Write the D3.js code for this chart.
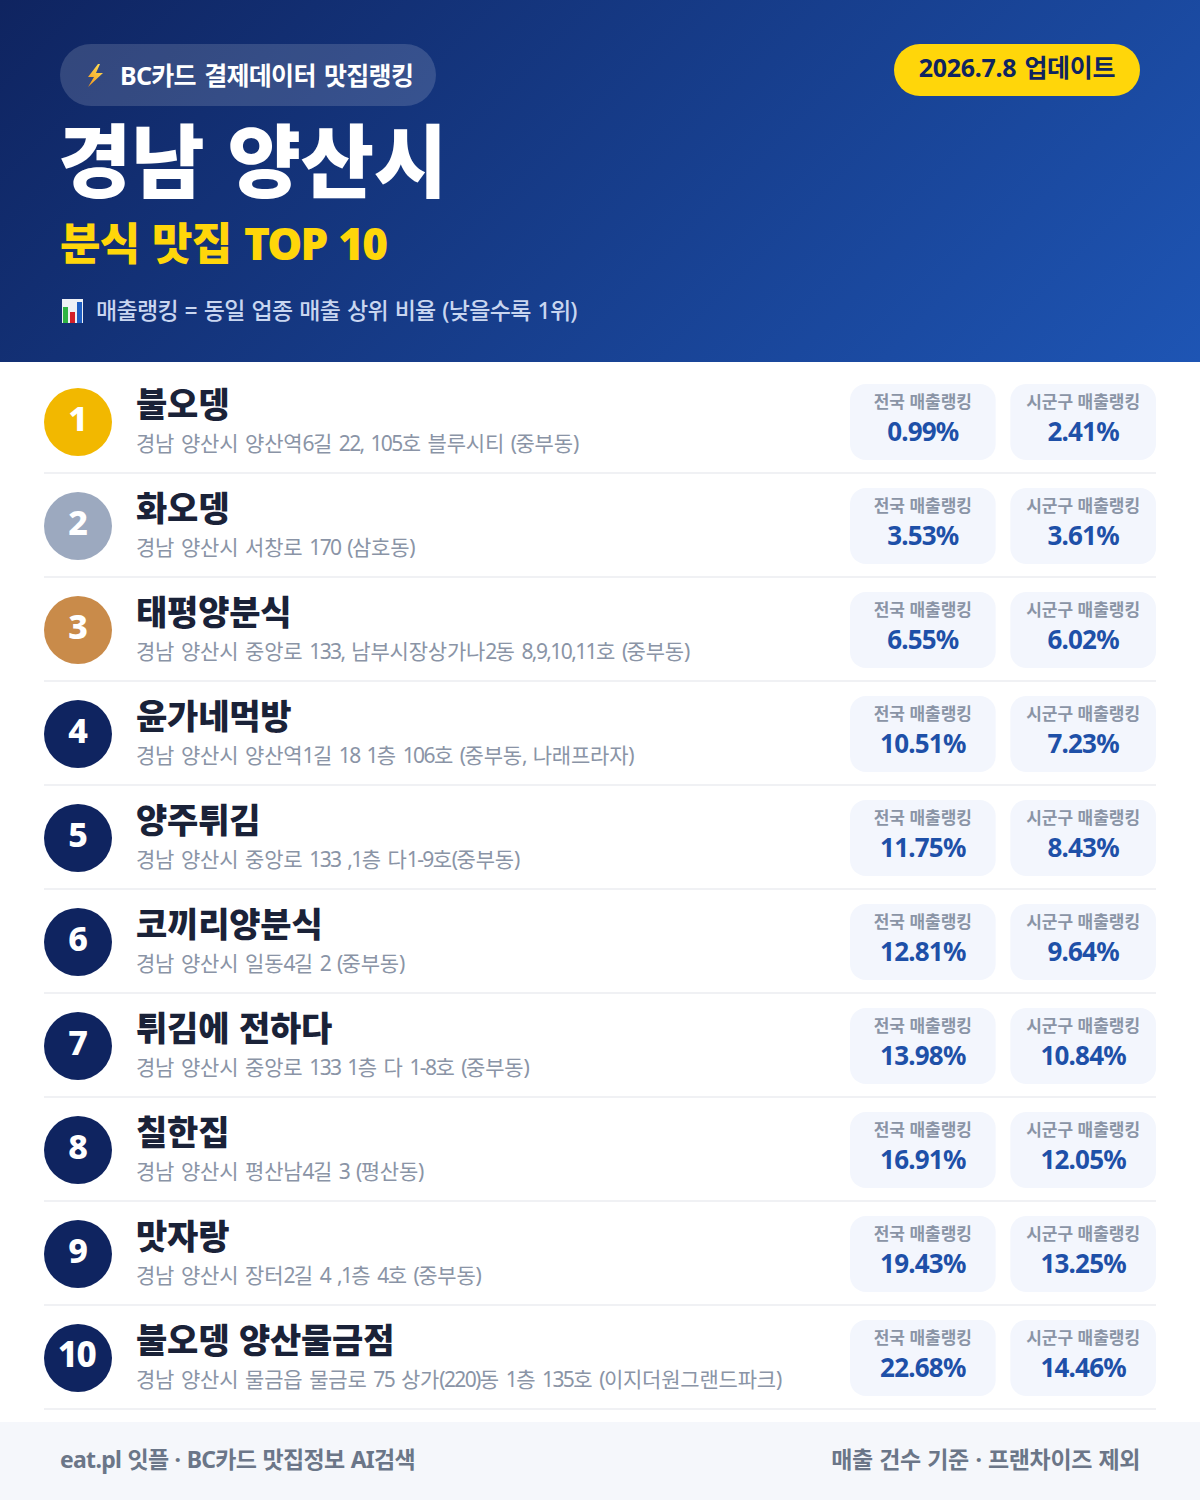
<!DOCTYPE html>
<html>
<head>
<meta charset="utf-8">
<script src="https://d3js.org/d3.v7.min.js"></script>
<style>
  html, body { margin: 0; padding: 0; background: #fff; }
  svg { display: block; }
  text { font-family: "Noto Sans", "Noto Sans CJK KR", sans-serif; }
</style>
</head>
<body>
<div id="content"></div>
<script>
var ranks = [1, 2, 3, 4, 5, 6, 7, 8, 9, 10];
var names = ["불오뎅", "화오뎅", "태평양분식", "윤가네먹방", "양주튀김", "코끼리양분식", "튀김에 전하다", "칠한집", "맛자랑", "불오뎅 양산물금점"];
var addresses = [
  "경남 양산시 양산역6길 22, 105호 블루시티 (중부동)",
  "경남 양산시 서창로 170 (삼호동)",
  "경남 양산시 중앙로 133, 남부시장상가나2동 8,9,10,11호 (중부동)",
  "경남 양산시 양산역1길 18 1층 106호 (중부동, 나래프라자)",
  "경남 양산시 중앙로 133 ,1층 다1-9호(중부동)",
  "경남 양산시 일동4길 2 (중부동)",
  "경남 양산시 중앙로 133 1층 다 1-8호 (중부동)",
  "경남 양산시 평산남4길 3 (평산동)",
  "경남 양산시 장터2길 4 ,1층 4호 (중부동)",
  "경남 양산시 물금읍 물금로 75 상가(220)동 1층 135호 (이지더원그랜드파크)"
];
var national = [0.99, 3.53, 6.55, 10.51, 11.75, 12.81, 13.98, 16.91, 19.43, 22.68];
var district = [2.41, 3.61, 6.02, 7.23, 8.43, 9.64, 10.84, 12.05, 13.25, 14.46];
var cardLabels = ["전국 매출랭킹", "시군구 매출랭킹"];
var medalColors = ["#f2b800", "#9ca9bf", "#c98b4a"];

var width = 1200, height = 1500;

var svg = d3.select("#content").append("svg")
  .attr("width", width)
  .attr("height", height)
  .attr("viewBox", "0 0 1200 1500");

var defs = svg.append("defs");
var grad = defs.append("linearGradient")
  .attr("id", "headerGrad")
  .attr("gradientUnits", "userSpaceOnUse")
  .attr("x1", 209.5).attr("y1", -209.5)
  .attr("x2", 990.5).attr("y2", 571.5);
grad.append("stop").attr("offset", "0%").attr("stop-color", "#0f2460");
grad.append("stop").attr("offset", "100%").attr("stop-color", "#1e55b4");

var bolt = defs.append("linearGradient")
  .attr("id", "boltGrad")
  .attr("x1", 0.8).attr("y1", 0).attr("x2", 0.2).attr("y2", 1);
bolt.append("stop").attr("offset", "0%").attr("stop-color", "#ffdf55");
bolt.append("stop").attr("offset", "100%").attr("stop-color", "#f59a1e");

function label(parent, x, y, str, size, weight, color, anchor, spacing, wordSpacing) {
  return parent.append("text")
    .attr("x", x).attr("y", y)
    .attr("font-size", size)
    .attr("font-weight", weight)
    .attr("fill", color)
    .attr("text-anchor", anchor || "start")
    .attr("letter-spacing", spacing || 0)
    .attr("word-spacing", wordSpacing || 0)
    .text(str);
}

// digits and punctuation sit tighter than the hangul in the reference
function tightRuns(sel, str, spacing) {
  str.split(/([0-9,()\-]+)/).forEach(function(run, i) {
    if (!run) return;
    var t = sel.append("tspan").text(run);
    if (i % 2 == 1) t.attr("letter-spacing", spacing);
  });
}

// header
svg.append("rect").attr("width", width).attr("height", 362).attr("fill", "url(#headerGrad)");

svg.append("rect")
  .attr("x", 60).attr("y", 44).attr("width", 376).attr("height", 62).attr("rx", 31)
  .attr("fill", "#fff").attr("fill-opacity", 0.15);
// lightning icon
svg.append("path")
  .attr("d", "M98 64 L88 77 L94 77 L88 87 L103 73 L96 73 L100 64 Z")
  .attr("fill", "url(#boltGrad)");
label(svg, 120, 85, "BC카드 결제데이터 맛집랭킹", 25, 700, "#fff", "start", -0.7, 2.5);

svg.append("rect")
  .attr("x", 894).attr("y", 44).attr("width", 246).attr("height", 52).attr("rx", 26)
  .attr("fill", "#ffd60a");
label(svg, 1017, 77, "2026.7.8 업데이트", 25, 700, "#0f2460", "middle", -0.3, 2);

label(svg, 58, 191, "경남 양산시", 80, 900, "#fff", "start", -0.5, 3);
var sub = label(svg, 60, 260, "", 44, 900, "#ffd60a", "start", -0.8, 2);
sub.append("tspan").text("분식 맛집 ");
sub.append("tspan").attr("letter-spacing", -1.8).text("TOP 10");

// bar chart icon
var icon = svg.append("g");
icon.append("rect").attr("x", 62).attr("y", 299).attr("width", 21).attr("height", 24).attr("fill", "#eef1f6");
icon.append("rect").attr("x", 63).attr("y", 307).attr("width", 5).attr("height", 16).attr("fill", "#2fb344");
icon.append("rect").attr("x", 70).attr("y", 312).attr("width", 5).attr("height", 11).attr("fill", "#d3202a");
icon.append("rect").attr("x", 77).attr("y", 302).attr("width", 5).attr("height", 21).attr("fill", "#1f5fc4");
label(svg, 96, 319, "매출랭킹 = 동일 업종 매출 상위 비율 (낮을수록 1위)", 23, 500, "#c9d6f0", "start", -0.7, 1.5);

// rows
var y = d3.scaleBand().domain(ranks).range([370, 1410]);
var cardX = d3.scaleBand().domain(cardLabels).range([850, 1156]).paddingInner(0.0915);

var rows = svg.selectAll("g.row")
  .data(ranks)
  .enter().append("g")
  .attr("class", "row")
  .attr("transform", function(d) { return "translate(0," + y(d) + ")"; });

rows.append("rect")
  .attr("x", 44).attr("y", 102).attr("width", 1112).attr("height", 2)
  .attr("fill", "#f0f1f4");

rows.append("circle")
  .attr("cx", 78).attr("cy", 52).attr("r", 34)
  .attr("fill", function(d, i) { return medalColors[i] || "#0f2460"; });

rows.append("text")
  .attr("x", function(d) { return d == 10 ? 76.5 : 78; })
  .attr("y", 60.5)
  .attr("text-anchor", "middle")
  .attr("font-size", function(d) { return d == 10 ? 35 : 34; })
  .attr("font-weight", 800)
  .attr("letter-spacing", function(d) { return d == 10 ? -1.5 : 0; })
  .attr("fill", "#fff")
  .text(function(d) { return d; });

rows.append("text")
  .attr("x", 136).attr("y", 47)
  .attr("font-size", 34)
  .attr("font-weight", 900)
  .attr("letter-spacing", -0.2)
  .attr("word-spacing", 1)
  .attr("fill", "#1a2238")
  .text(function(d, i) { return names[i]; });

rows.append("text")
  .attr("x", 136).attr("y", 81)
  .attr("font-size", 21)
  .attr("font-weight", 400)
  .attr("letter-spacing", -0.2)
  .attr("word-spacing", 1.5)
  .attr("fill", "#8a94a6")
  .each(function(d, i) { tightRuns(d3.select(this), addresses[i], -1.6); });

cardLabels.forEach(function(c, k) {
  var vals = k == 0 ? national : district;
  rows.append("rect")
    .attr("x", cardX(c)).attr("y", 14)
    .attr("width", cardX.bandwidth()).attr("height", 76)
    .attr("rx", 16)
    .attr("fill", "#f3f6fd");
  rows.append("text")
    .attr("x", cardX(c) + cardX.bandwidth() / 2).attr("y", 37.5)
    .attr("text-anchor", "middle")
    .attr("font-size", 17)
    .attr("font-weight", 700)
    .attr("fill", "#8a94a6")
    .text(c);
  rows.append("text")
    .attr("x", cardX(c) + cardX.bandwidth() / 2).attr("y", 71)
    .attr("text-anchor", "middle")
    .attr("font-size", 26)
    .attr("font-weight", 700)
    .attr("letter-spacing", -0.8)
    .attr("fill", "#1e50a8")
    .text(function(d, i) { return vals[i].toFixed(2) + "%"; });
});

// footer
svg.append("rect").attr("x", 0).attr("y", 1422).attr("width", width).attr("height", 78).attr("fill", "#f5f7fb");
label(svg, 60, 1467.5, "eat.pl 잇플 · BC카드 맛집정보 AI검색", 23, 700, "#6b7688", "start", -0.7, 1);
label(svg, 1140, 1467.5, "매출 건수 기준 · 프랜차이즈 제외", 23, 700, "#6b7688", "end", -0.4, 1);
</script>
</body>
</html>
